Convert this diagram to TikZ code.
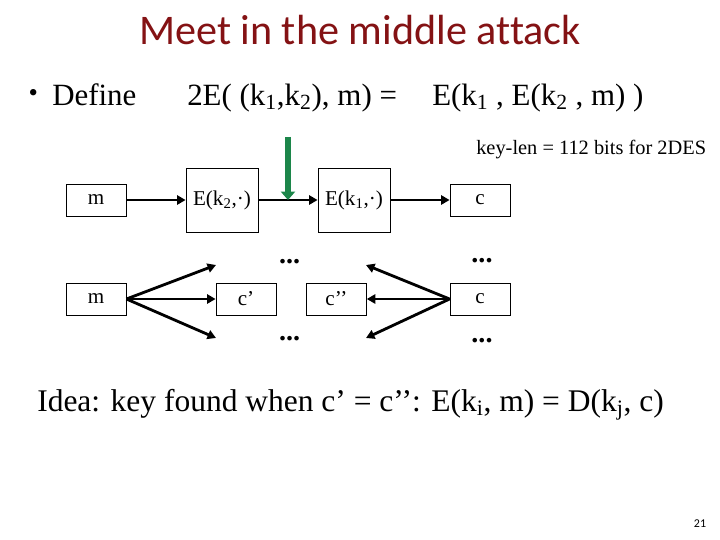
\documentclass[tikz,border=0pt]{standalone}
\usepackage{fontspec}
\setmainfont{Liberation Serif}
\newfontfamily\titlefont{Carlito}[Ligatures=NoCommon]
\usetikzlibrary{arrows.meta,calc,positioning}
\definecolor{slidered}{RGB}{132,18,20}
\definecolor{tapgreen}{RGB}{28,134,74}
\tikzset{flow/.style={-{Triangle[length=6pt, width=6.5pt]}, line width=2pt},
  tap/.style={-{Triangle[length=6pt, width=10pt]}, line width=4.3pt, draw=tapgreen},
  box/.style={draw, line width=0.6pt, inner sep=0pt, font=\fontsize{15}{18}\selectfont},
  dots/.style={font=\fontsize{20}{24}\selectfont\bfseries, inner sep=0pt}}

\begin{document}
\begin{tikzpicture}
  \useasboundingbox (0,0) rectangle (18,-13.5);
  \node[font=\titlefont\fontsize{30}{36}\selectfont, text=slidered] (title) at (9,-0.75) {Meet in the middle attack};
  \node[font=\fontsize{19}{23}\selectfont] (bul) at (0.83,-2.38) {\textbullet};
  \node[anchor=base west, inner sep=0pt, font=\fontsize{22}{26}\selectfont] (def) at (1.3,-2.625) {Define};
  \node[anchor=base west, inner sep=0pt, font=\fontsize{22}{26}\selectfont] (lhs) at (4.675,-2.625) {2E( (k\textsubscript{1},k\textsubscript{2}), m) =};
  \node[anchor=base west, inner sep=0pt, font=\fontsize{22}{26}\selectfont] (rhs) at (10.8,-2.625) {E(k\textsubscript{1} , E(k\textsubscript{2} , m) )};
  \node[font=\fontsize{14.5}{17}\selectfont] (keylen) at (14.78,-3.75) {key-len = 112 bits for 2DES};
  % top row: the double encryption
  \node[box, minimum width=15mm, minimum height=8mm] (m1) at (2.4,-5) {m};
  \node[box, minimum width=18mm, minimum height=16mm] (e2) at (5.55,-5) {E(k\textsubscript{2},·)};
  \node[box, minimum width=18mm, minimum height=16mm] (e1) at (8.85,-5) {E(k\textsubscript{1},·)};
  \node[box, minimum width=15mm, minimum height=8mm] (c1) at (12,-5) {c};
  \draw[flow] (m1) -- (e2);
  \draw[flow] (e2) -- (e1);
  \draw[flow] (e1) -- (c1);
  \coordinate (hit) at ($(e2.east)!0.5!(e1.west)$);
  \coordinate (hittop) at ($(hit)+(0,1.58)$);
  \draw[tap] (hittop) -- (hit);
  % bottom row: meet in the middle
  \node[box, minimum width=15mm, minimum height=8mm] (m2) at (2.4,-7.475) {m};
  \node[box, minimum width=15mm, minimum height=8mm] (cp) at (6.15,-7.475) {c’};
  \node[box, minimum width=15mm, minimum height=8mm] (cpp) at (8.41,-7.475) {c’’};
  \node[box, minimum width=15mm, minimum height=8mm] (c2) at (12,-7.475) {c};
  \coordinate (up1) at (5.4,-6.625);
  \coordinate (dn1) at (5.4,-8.45);
  \coordinate (up2) at (9.15,-6.625);
  \coordinate (dn2) at (9.15,-8.45);
  \draw[flow] (m2.east) -- (up1);
  \draw[flow] (m2.east) -- (cp.west);
  \draw[flow] (m2.east) -- (dn1);
  \draw[flow] (c2.west) -- (up2);
  \draw[flow] (c2.west) -- (cpp.east);
  \draw[flow] (c2.west) -- (dn2);
  \node[dots] (d1) at (7.24,-6.54) {...};
  \node[dots] (d2) at (12.05,-6.51) {...};
  \node[dots] (d3) at (7.24,-8.47) {...};
  \node[dots] (d4) at (12.05,-8.51) {...};
  \node[anchor=base west, inner sep=0pt, font=\fontsize{22.4}{27}\selectfont] (idea) at (0.925,-10.275) {Idea: key found when c’ = c’’: E(k\textsubscript{i}, m) = D(k\textsubscript{j}, c)};
  \node[font=\titlefont\fontsize{8.5}{10}\selectfont] (pg) at (17.5,-13.1) {21};
\end{tikzpicture}
\end{document}
